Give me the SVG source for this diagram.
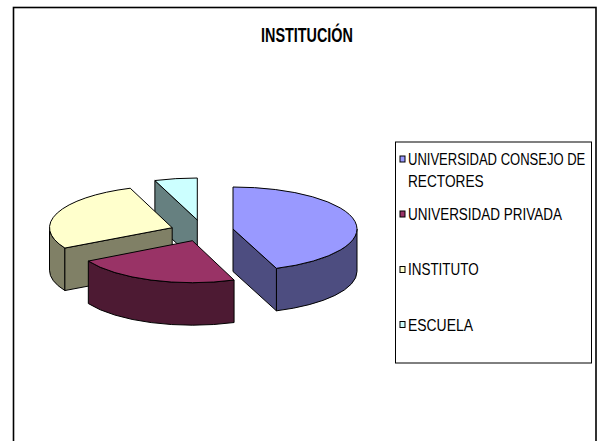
<svg xmlns="http://www.w3.org/2000/svg" width="597" height="441" viewBox="0 0 597 441">
<style>
  .ol { stroke: #000; stroke-width: 1; stroke-linejoin: round; }
  .bT { fill: #9999FF; } .bS { fill: #4D4D80; }
  .mT { fill: #993366; } .mS { fill: #4D1A33; }
  .yT { fill: #FFFFCC; } .yS { fill: #808066; }
  .cT { fill: #CCFFFF; } .cS { fill: #668080; }
  .lg { font-family: "Liberation Sans", Arial, sans-serif; font-size: 16px; fill: #000; }
  .sw { stroke: #000; stroke-width: 1; }
</style>
<rect x="0" y="0" width="597" height="441" fill="#fff"/>
<rect x="13.5" y="7.5" width="582.5" height="450" fill="none" stroke="#000" stroke-width="1.6"/>
<text transform="translate(307,41.5) scale(0.738,1)" x="0" y="0" text-anchor="middle" font-family="Liberation Sans, Arial, sans-serif" font-weight="bold" font-size="19.5">INSTITUCIÓN</text>

<g id="slice-escuela" class="ol">
  <path class="cS" d="M197.3,220 L154.89,180.53 L154.89,223.03 L197.3,262.5 Z"/>
  <path class="cT" d="M197.3,220 L154.89,180.53 A124,42 0 0 1 197.3,178 Z"/>
</g>
<g id="slice-instituto" class="ol">
  <path class="yS" d="M64.89,248.06 A122.7,42 0 0 1 49.5,227.7 L49.5,270.2 A122.7,42 0 0 0 64.89,290.56 Z"/>
  <path class="yS" d="M172.2,227.7 L64.89,248.06 L64.89,290.56 L172.2,270.2 Z"/>
  <path class="yT" d="M172.2,227.7 L64.89,248.06 A122.7,42 0 0 1 130.23,188.23 Z"/>
</g>
<g id="slice-privada" class="ol">
  <path class="mS" d="M234.07,280.04 A119,42 0 0 1 88.32,261.06 L88.32,303.56 A119,42 0 0 0 234.07,322.54 Z"/>
  <path class="mT" d="M192.4,240.7 L234.07,280.04 A119,42 0 0 1 88.32,261.06 Z"/>
</g>
<g id="slice-consejo" class="ol">
  <path class="bS" d="M357,229 A124,42 0 0 1 276.42,268.34 L276.42,310.84 A124,42 0 0 0 357,271.5 Z"/>
  <path class="bS" d="M233,229 L276.42,268.34 L276.42,310.84 L233,271.5 Z"/>
  <path class="bT" d="M233,229 L233,187 A124,42 0 0 1 276.42,268.34 Z"/>
</g>

<g id="legend">
  <rect x="395.5" y="142" width="196" height="221" fill="#fff" stroke="#000" stroke-width="1"/>
  <rect class="sw bT" x="400" y="156" width="5" height="6"/>
  <text class="lg" transform="translate(408,165) scale(0.815,1)">UNIVERSIDAD CONSEJO DE</text>
  <text class="lg" transform="translate(408,186.5) scale(0.855,1)">RECTORES</text>
  <rect class="sw mT" x="400" y="211" width="5" height="6"/>
  <text class="lg" transform="translate(408,220) scale(0.842,1)">UNIVERSIDAD PRIVADA</text>
  <rect class="sw yT" x="400" y="266.5" width="5" height="6"/>
  <text class="lg" transform="translate(408,275) scale(0.841,1)">INSTITUTO</text>
  <rect class="sw cT" x="400" y="321.5" width="5" height="6"/>
  <text class="lg" transform="translate(408,330.5) scale(0.87,1)">ESCUELA</text>
</g>
</svg>
